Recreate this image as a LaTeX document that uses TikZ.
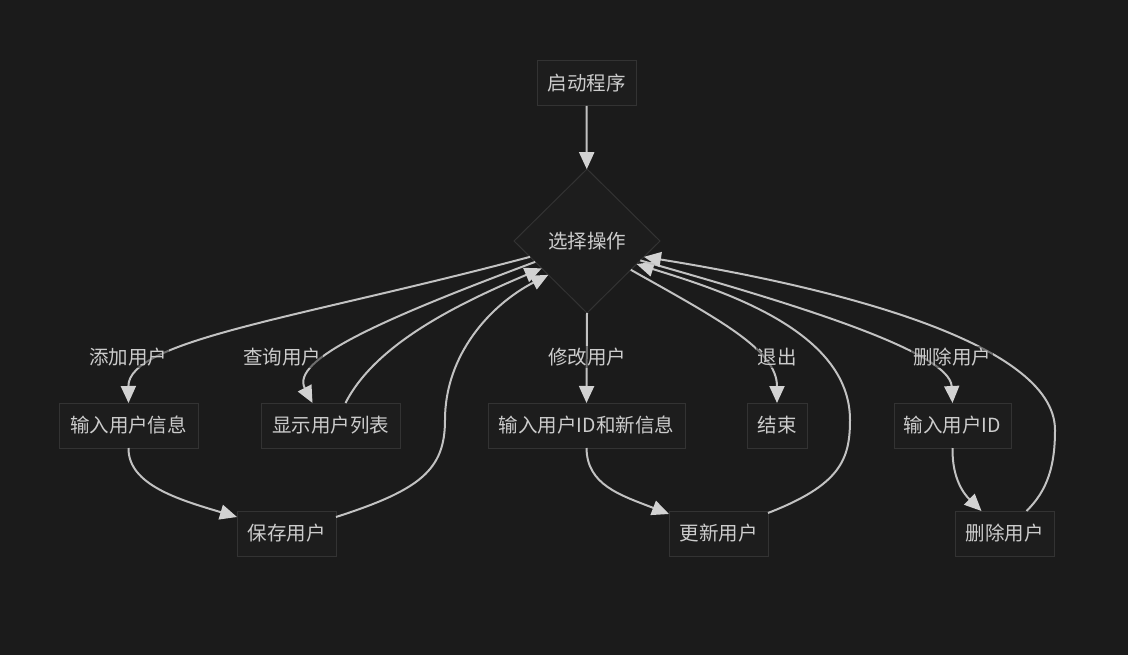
\documentclass[tikz,border=0pt]{standalone}
\usepackage{fontspec}
\setmainfont{Noto Sans CJK SC}
\usetikzlibrary{shapes.geometric,arrows.meta,calc}
\definecolor{bg}{HTML}{1B1B1B}
\definecolor{nodefill}{HTML}{1D1D1D}
\definecolor{nodeborder}{HTML}{333333}
\definecolor{txt}{HTML}{CCCCCC}
\definecolor{edgecol}{HTML}{C2C2C2}
\definecolor{tipcol}{HTML}{D2D2D2}
\begin{document}
\begin{tikzpicture}[x=1pt,y=-1pt,
  box/.style={draw=nodeborder,line width=1pt,fill=nodefill,text=txt,inner sep=0pt,outer sep=0pt,minimum height=45pt,font=\fontsize{19.5}{22}\selectfont},
  dia/.style={shape=diamond,aspect=1,draw=nodeborder,line width=1pt,fill=nodefill,text=txt,inner sep=0pt,outer sep=0pt,font=\fontsize{19.5}{22}\selectfont},
  flow/.style={draw=edgecol,line width=2pt,-{Triangle[length=17pt,width=15pt,color=tipcol]}},
  lbl/.style={text=txt,fill=bg,fill opacity=0.5,text opacity=1,inner sep=2pt,font=\fontsize{19.5}{22}\selectfont}
]
\fill[bg] (0,0) rectangle (1128,655);
\useasboundingbox (0,0) rectangle (1128,655);

\node[box,minimum width=99pt] (start) at (586.5,83.5) {启动程序};
\node[dia,minimum width=146pt,minimum height=144pt] (sel) at (587,241) {选择操作};
\node[box,minimum width=139pt] (in1) at (128.5,425.5) {输入用户信息};
\node[box,minimum width=139pt] (disp) at (330.5,425.5) {显示用户列表};
\node[box,minimum width=197pt] (mod) at (586.5,425.5) {输入用户ID和新信息};
\node[box,minimum width=60pt] (fin) at (777,425.5) {结束};
\node[box,minimum width=117pt] (inid) at (952.5,425.5) {输入用户ID};
\node[box,minimum width=99pt] (save) at (286.5,533.5) {保存用户};
\node[box,minimum width=99pt] (upd) at (718.5,533.5) {更新用户};
\node[box,minimum width=99pt] (del) at (1004.5,533.5) {删除用户};

\coordinate (L1) at ($(sel.west)!0.22!(sel.south)$);
\coordinate (L2) at ($(sel.west)!0.29!(sel.south)$);
\coordinate (L3) at ($(sel.west)!0.38!(sel.south)$);
\coordinate (L4) at ($(sel.west)!0.47!(sel.south)$);
\coordinate (R1) at ($(sel.east)!0.22!(sel.south)$);
\coordinate (R2) at ($(sel.east)!0.27!(sel.south)$);
\coordinate (R3) at ($(sel.east)!0.32!(sel.south)$);
\coordinate (R4) at ($(sel.east)!0.40!(sel.south)$);

\draw[flow] (start) -- (sel);
\draw[flow] (L1) .. controls (300,318) and (128,340) .. (in1.north);
\draw[flow] (L2) .. controls (380,320) and (290,360) .. ([xshift=-18pt]disp.north);
\draw[flow] ([xshift=15pt]disp.north) .. controls (375,345) and (455,305) .. (L3);
\draw[flow] (in1.south) .. controls (128,485) and (180,500) .. ([yshift=-6pt]save.north west);
\draw[flow] ([yshift=-6pt]save.north east) .. controls (420,490) and (445,470) .. (445,420) .. controls (445,355) and (490,305) .. (L4);
\draw[flow] (sel.south) -- (mod.north);
\draw[flow] (mod.south) .. controls (587,485) and (620,495) .. ([yshift=-3pt]upd.north west);
\draw[flow] ([yshift=-2pt]upd.north east) .. controls (840,485) and (850,460) .. (850,420) .. controls (850,330) and (720,290) .. (R3);
\draw[flow] (R4) .. controls (720,320) and (777,350) .. (fin.north);
\draw[flow] (R2) .. controls (780,300) and (950,350) .. (inid.north);
\draw[flow] (inid.south) .. controls (952,480) and (965,495) .. ([xshift=-23pt]del.north);
\draw[flow] ([xshift=22pt]del.north) .. controls (1048,490) and (1055,465) .. (1055,430) .. controls (1055,340) and (820,285) .. (R1);

\node[lbl] (la) at (128,357) {添加用户};
\node[lbl] (lq) at (282,357) {查询用户};
\node[lbl] (lm) at (587,357) {修改用户};
\node[lbl] (lx) at (777,357) {退出};
\node[lbl] (ld) at (952,357) {删除用户};
\end{tikzpicture}
\end{document}
